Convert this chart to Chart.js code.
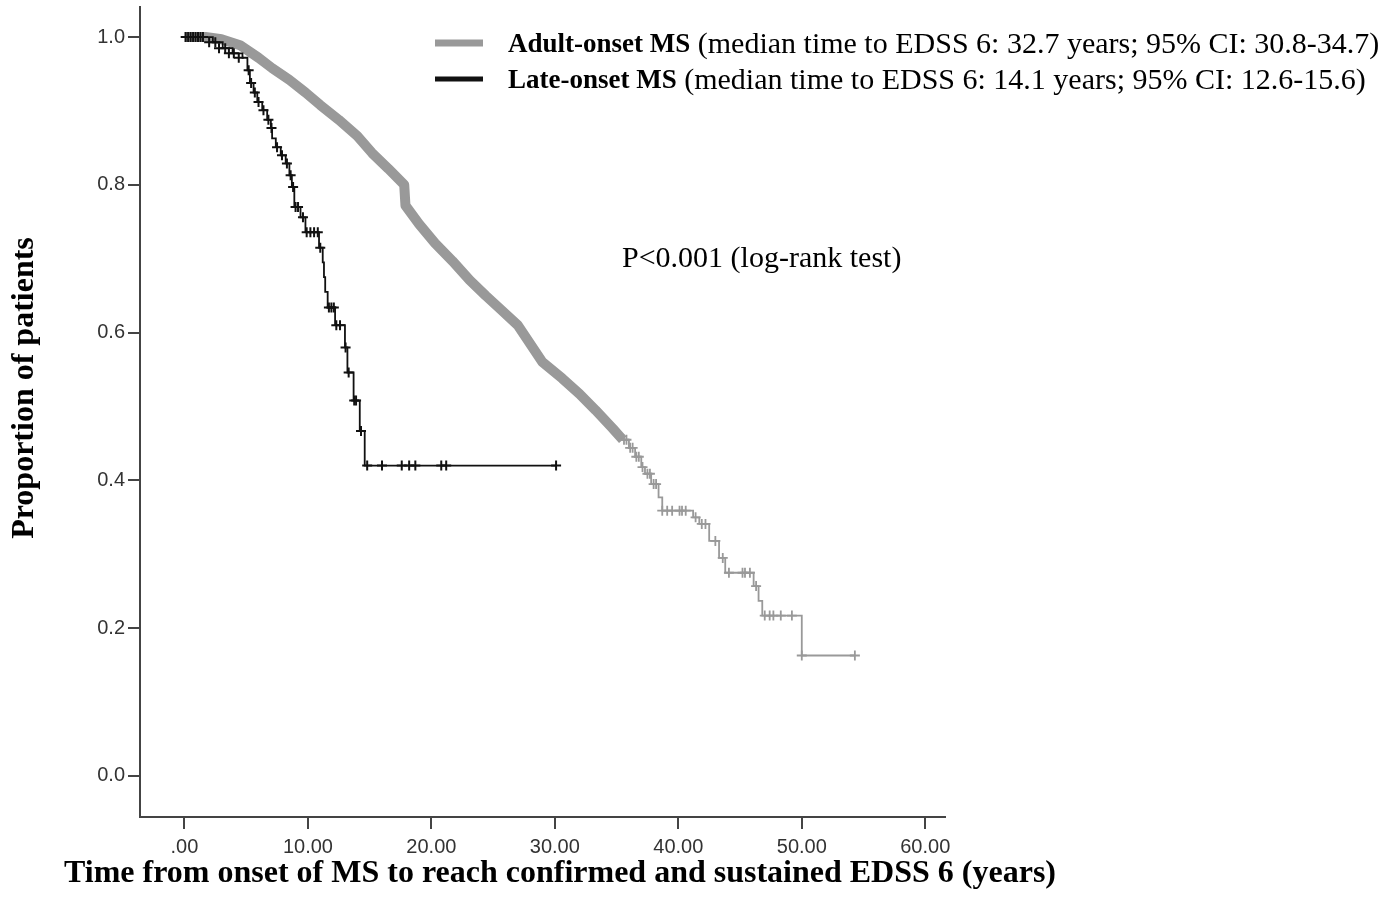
<!doctype html>
<html>
<head>
	<title>Time to EDSS 6</title>
	<script src="https://cdn.jsdelivr.net/npm/chart.js@4.4.1/dist/chart.umd.min.js"></script>
	<style>
	body {
		margin: 0;
		background: #fff;
	}
	.chart-container {
		position: relative;
		width: 1400px;
		height: 920px;
	}
	</style>
</head>

<body>
	<div class="chart-container">
		<canvas id="chart"></canvas>
	</div>
	<script>
		// adult-onset curve: dense part (censor marks merge into a thick band)
		var adultBandTime = [0, 1.7, 3.0, 4.5, 6.0, 7.1, 8.5, 9.8, 11.0, 12.5, 14.0, 15.2, 16.5, 17.8, 17.9, 19.0, 20.3, 21.7, 23.1, 24.4, 25.7, 27.0, 28.0, 29.0, 30.6, 32.0, 33.3, 34.7, 35.5];
		var adultBandSurv = [1.0, 1.0, 0.997, 0.989, 0.972, 0.958, 0.942, 0.925, 0.908, 0.888, 0.866, 0.843, 0.822, 0.8, 0.772, 0.747, 0.721, 0.697, 0.671, 0.65, 0.63, 0.61, 0.585, 0.56, 0.538, 0.517, 0.495, 0.47, 0.455];

		// adult-onset curve: sparse tail (event times and survival after each event)
		var adultTailTime = [35.5, 36.0, 36.5, 37.0, 37.3, 37.8, 38.4, 38.7, 41.2, 41.7, 42.5, 43.3, 43.8, 46.1, 46.5, 46.8, 50.0, 54.3];
		var adultTailSurv = [0.455, 0.444, 0.432, 0.418, 0.409, 0.395, 0.377, 0.359, 0.35, 0.341, 0.318, 0.295, 0.275, 0.257, 0.237, 0.217, 0.163, 0.163];

		var adultCensorTime = [35.6, 35.8, 36.1, 36.3, 36.6, 36.8, 37.1, 37.5, 37.7, 38.0, 38.2, 38.7, 39.1, 39.5, 40.1, 40.3, 40.6, 41.4, 41.9, 42.2, 43.0, 43.6, 44.1, 45.2, 45.4, 45.8, 46.3, 47.0, 47.4, 47.7, 48.3, 49.2, 50.0, 54.3];
		var adultCensorSurv = [0.455, 0.455, 0.444, 0.444, 0.432, 0.432, 0.418, 0.409, 0.409, 0.395, 0.395, 0.359, 0.359, 0.359, 0.359, 0.359, 0.359, 0.35, 0.341, 0.341, 0.318, 0.295, 0.275, 0.275, 0.275, 0.275, 0.257, 0.217, 0.217, 0.217, 0.217, 0.217, 0.163, 0.163];

		// late-onset curve
		var lateTime = [0, 1.7, 2.3, 3.1, 3.9, 4.7, 5.1, 5.3, 5.6, 5.9, 6.3, 6.7, 7.0, 7.1, 7.4, 7.8, 8.2, 8.5, 8.7, 8.9, 9.4, 9.8, 10.9, 11.2, 11.3, 11.4, 11.6, 12.2, 13.0, 13.2, 13.7, 14.2, 14.6, 30.1];
		var lateSurv = [1.0, 1.0, 0.993, 0.985, 0.978, 0.972, 0.955, 0.938, 0.925, 0.912, 0.901, 0.888, 0.877, 0.863, 0.851, 0.84, 0.829, 0.813, 0.797, 0.77, 0.756, 0.736, 0.715, 0.695, 0.675, 0.655, 0.634, 0.61, 0.58, 0.546, 0.508, 0.467, 0.42, 0.42];

		var lateCensorTime = [0.1, 0.3, 0.5, 0.7, 0.9, 1.1, 1.3, 1.5, 2.0, 2.5, 2.8, 3.3, 3.6, 4.0, 4.4, 5.2, 5.4, 5.7, 6.0, 6.4, 6.8, 7.05, 7.5, 7.9, 8.3, 8.6, 8.8, 9.0, 9.2, 9.6, 9.9, 10.2, 10.5, 10.8, 11.0, 11.7, 11.9, 12.1, 12.3, 12.6, 13.05, 13.3, 13.75, 13.9, 14.3, 14.8, 16.0, 17.6, 18.2, 18.7, 20.8, 21.2, 30.1];
		var lateCensorSurv = [1.0, 1.0, 1.0, 1.0, 1.0, 1.0, 1.0, 1.0, 0.993, 0.993, 0.985, 0.985, 0.978, 0.978, 0.972, 0.955, 0.938, 0.925, 0.912, 0.901, 0.888, 0.877, 0.851, 0.84, 0.829, 0.813, 0.797, 0.77, 0.77, 0.756, 0.736, 0.736, 0.736, 0.736, 0.715, 0.634, 0.634, 0.634, 0.61, 0.61, 0.58, 0.546, 0.508, 0.508, 0.467, 0.42, 0.42, 0.42, 0.42, 0.42, 0.42, 0.42, 0.42];

		var xTicks = [0, 10, 20, 30, 40, 50, 60];
		var yTicks = [0, 0.2, 0.4, 0.6, 0.8, 1.0];

		var legendItems = [
			{bold: 'Adult-onset MS', rest: ' (median time to EDSS 6: 32.7 years; 95% CI: 30.8-34.7)', color: '#999999', width: 7},
			{bold: 'Late-onset MS', rest: ' (median time to EDSS 6: 14.1 years; 95% CI: 12.6-15.6)', color: '#111111', width: 5}
		];
		var pText = 'P<0.001 (log-rank test)';
		var xTitle = 'Time from onset of MS to reach confirmed and sustained EDSS 6 (years)';
		var yTitle = 'Proportion of patients';

		function toPoints(xs, ys) {
			return xs.map(function(x, i) {
				return {x: x, y: ys[i]};
			});
		}

		var serif = '"Liberation Serif", "Times New Roman", serif';

		var textPlugin = {
			id: 'textPlugin',
			afterDraw: function(chart) {
				var ctx = chart.ctx;
				ctx.save();
				ctx.textBaseline = 'middle';
				ctx.textAlign = 'left';

				legendItems.forEach(function(item, i) {
					var y = 45 + i * 36;
					ctx.strokeStyle = item.color;
					ctx.lineWidth = item.width;
					ctx.beginPath();
					ctx.moveTo(435, y - 2);
					ctx.lineTo(483, y - 2);
					ctx.stroke();

					ctx.fillStyle = '#000';
					ctx.font = 'bold 27px ' + serif;
					ctx.fillText(item.bold, 508, y);
					var w = ctx.measureText(item.bold).width;
					ctx.font = '30px ' + serif;
					ctx.fillText(item.rest, 508 + w, y);
				});

				ctx.font = '30px ' + serif;
				ctx.fillText(pText, 622, 259);

				ctx.font = 'bold 32px ' + serif;
				ctx.textAlign = 'center';
				ctx.fillText(xTitle, 560, 874);

				ctx.translate(25, 388);
				ctx.rotate(-Math.PI / 2);
				ctx.fillText(yTitle, 0, 0);
				ctx.restore();
			}
		};

		window.onload = function() {
			var ctx = document.getElementById('chart').getContext('2d');

			var axisColor = '#444';
			var tickFont = {family: '"Liberation Sans", Arial, sans-serif', size: 20};

			new Chart(ctx, {
				type: 'scatter',
				data: {
					datasets: [{
						label: 'Late-onset MS censored',
						data: toPoints(lateCensorTime, lateCensorSurv),
						pointStyle: 'cross',
						pointRadius: 5,
						pointBorderWidth: 2,
						borderColor: '#111',
						showLine: false
					}, {
						label: 'Late-onset MS',
						data: toPoints(lateTime, lateSurv),
						stepped: true,
						showLine: true,
						borderColor: '#111',
						borderWidth: 1.8,
						pointRadius: 0
					}, {
						label: 'Adult-onset MS censored',
						data: toPoints(adultCensorTime, adultCensorSurv),
						pointStyle: 'cross',
						pointRadius: 5,
						pointBorderWidth: 1.8,
						borderColor: '#999',
						showLine: false
					}, {
						label: 'Adult-onset MS tail',
						data: toPoints(adultTailTime, adultTailSurv),
						stepped: true,
						showLine: true,
						borderColor: '#999',
						borderWidth: 1.8,
						pointRadius: 0
					}, {
						label: 'Adult-onset MS',
						data: toPoints(adultBandTime, adultBandSurv),
						showLine: true,
						borderColor: '#999',
						borderWidth: 10,
						borderJoinStyle: 'round',
						borderCapStyle: 'butt',
						pointRadius: 0
					}]
				},
				options: {
					responsive: true,
					maintainAspectRatio: false,
					animation: false,
					layout: {
						padding: {left: 0, top: 7, right: 455, bottom: 0}
					},
					plugins: {
						legend: {display: false},
						tooltip: {enabled: false}
					},
					scales: {
						x: {
							type: 'linear',
							min: -3.6,
							max: 61.6,
							afterBuildTicks: function(scale) {
								scale.ticks = xTicks.map(function(v) { return {value: v}; });
							},
							afterFit: function(scale) {
								scale.height = 103;
							},
							ticks: {
								font: tickFont,
								color: '#333',
								padding: 6,
								maxRotation: 0,
								callback: function(v) {
									return v === 0 ? '.00' : v.toFixed(2);
								}
							},
							grid: {
								drawOnChartArea: false,
								drawTicks: true,
								tickLength: 12,
								color: axisColor,
								lineWidth: 2
							},
							border: {display: true, color: axisColor, width: 2}
						},
						y: {
							min: -0.0556,
							max: 1.0407,
							afterBuildTicks: function(scale) {
								scale.ticks = yTicks.map(function(v) { return {value: v}; });
							},
							afterFit: function(scale) {
								scale.width = 140;
								scale.paddingTop = 0;
							},
							ticks: {
								font: {family: tickFont.family, size: 20, lineHeight: 0.6},
								color: '#333',
								padding: 3,
								callback: function(v) {
									return v.toFixed(1);
								}
							},
							grid: {
								drawOnChartArea: false,
								drawTicks: true,
								tickLength: 12,
								color: axisColor,
								lineWidth: 2
							},
							border: {display: true, color: axisColor, width: 2}
						}
					}
				},
				plugins: [textPlugin]
			});
		};
	</script>
</body>

</html>
